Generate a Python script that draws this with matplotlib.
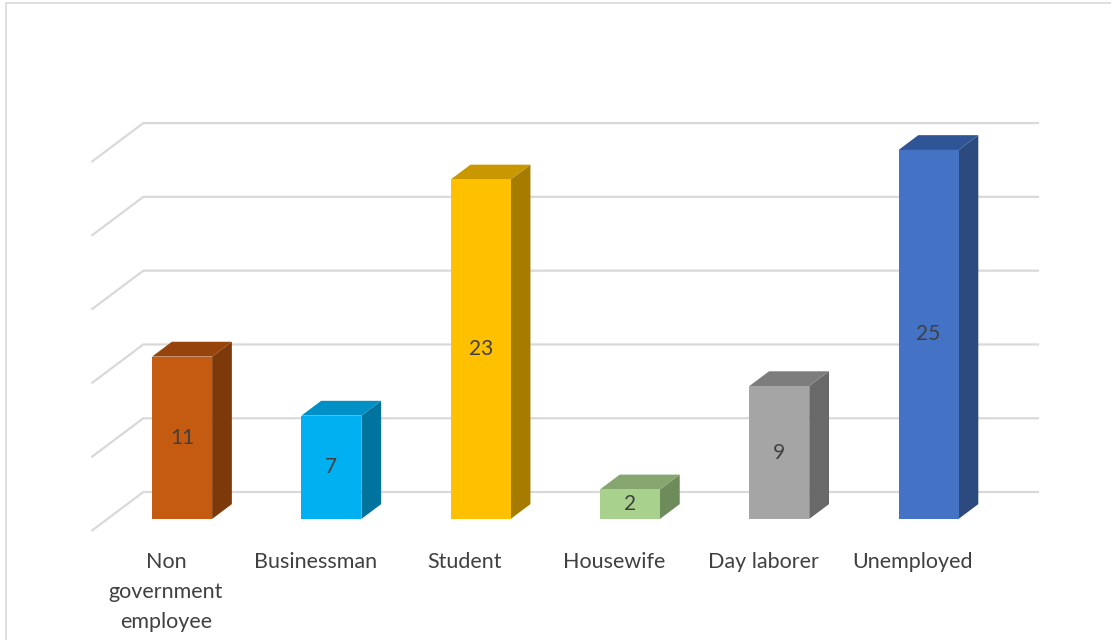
import matplotlib.pyplot as plt
from matplotlib.patches import Polygon, Rectangle

# occupation counts
categories = ["Non\ngovernment\nemployee", "Businessman", "Student",
              "Housewife", "Day laborer", "Unemployed"]
counts = [11, 7, 23, 2, 9, 25]
gridvals = [0, 5, 10, 15, 20, 25]

front_colors = ["#C55A11", "#00B0F0", "#FFC000", "#A9D18E", "#A5A5A5", "#4472C4"]
top_colors = ["#97440C", "#0090C6", "#C99700", "#85A66F", "#7D7D7D", "#2F5597"]
side_colors = ["#7E390A", "#00739E", "#A67C00", "#6E8C5A", "#696969", "#2C4A7E"]

# pseudo-3d projection: one unit of depth moves this much in data units
DEPTH_X = 0.348
DEPTH_Y = 2.64
BAR_FRONT = 0.31
BAR_BACK = 0.69
HALF_W = 0.201


def proj(c, v, d):
    return (c + d * DEPTH_X, v + d * DEPTH_Y)


fig = plt.figure(figsize=(11.11, 6.4), dpi=100)
ax = fig.add_axes([0, 0, 1, 1])
ax.set_xlim(-1.112, 6.330)
ax.set_ylim(-7.385, 35.98)
ax.axis("off")

grid_col = "#D9D9D9"
for g in gridvals:
    # back wall line + side wall diagonal
    x0, y0 = proj(-0.5, g, 0)
    x1, y1 = proj(-0.5, g, 1)
    x2, y2 = proj(5.5, g, 1)
    ax.plot([x0, x1, x2], [y0, y1, y2], color=grid_col, lw=1.6,
            solid_capstyle="butt", zorder=1)

for i, (v, fc, tc, sc) in enumerate(zip(counts, front_colors, top_colors, side_colors)):
    l, r = i - HALF_W, i + HALF_W
    # side face
    side = [proj(r, 0, BAR_FRONT), proj(r, 0, BAR_BACK),
            proj(r, v, BAR_BACK), proj(r, v, BAR_FRONT)]
    ax.add_patch(Polygon(side, closed=True, facecolor=sc, edgecolor="none", zorder=2))
    # top face
    top = [proj(l, v, BAR_FRONT), proj(r, v, BAR_FRONT),
           proj(r, v, BAR_BACK), proj(l, v, BAR_BACK)]
    ax.add_patch(Polygon(top, closed=True, facecolor=tc, edgecolor="none", zorder=2))
    # front face
    front = [proj(l, 0, BAR_FRONT), proj(r, 0, BAR_FRONT),
             proj(r, v, BAR_FRONT), proj(l, v, BAR_FRONT)]
    ax.add_patch(Polygon(front, closed=True, facecolor=fc, edgecolor="none", zorder=3))
    cx, cy = proj(i, v / 2, BAR_FRONT)
    ax.text(cx, cy, str(v), ha="center", va="center", fontsize=15,
            family="Lato", color="#404040", zorder=4)

for i, lab in enumerate(categories):
    ax.text(i, -1.45, lab, ha="center", va="top", fontsize=15.5, family="Lato",
            color="#404040", linespacing=1.62)

# chart border
fig.patches.append(Rectangle((6 / 1111, -0.1), 1.2, 1 - 3 / 640 + 0.1,
                             transform=fig.transFigure, fill=False,
                             edgecolor="#D9D9D9", lw=1.2))

fig.savefig("out.png", dpi=100)
